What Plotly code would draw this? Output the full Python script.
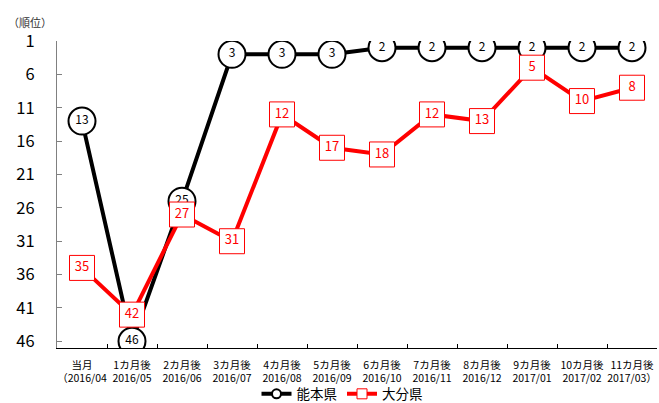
import plotly.graph_objects as go

categories = ["当月<br>（2016/04", "1カ月後<br>2016/05", "2カ月後<br>2016/06", "3カ月後<br>2016/07",
              "4カ月後<br>2016/08", "5カ月後<br>2016/09", "6カ月後<br>2016/10", "7カ月後<br>2016/11",
              "8カ月後<br>2016/12", "9カ月後<br>2017/01", "10カ月後<br>2017/02", "11カ月後<br>2017/03）"]
kumamoto = [13, 46, 25, 3, 3, 3, 2, 2, 2, 2, 2, 2]
oita = [35, 42, 27, 31, 12, 17, 18, 12, 13, 5, 10, 8]
y_ticks = [1, 6, 11, 16, 21, 26, 31, 36, 41, 46]

FONT = "Noto Sans CJK JP"

fig = go.Figure()
fig.add_trace(go.Scatter(
    x=categories, y=kumamoto, name="能本県", mode="lines+markers+text", showlegend=False,
    line=dict(color="black", width=4),
    marker=dict(symbol="circle", size=27, color="white", line=dict(color="black", width=2)),
    text=[str(v) for v in kumamoto], textposition="middle center",
    textfont=dict(color="black", size=12, family=FONT),
))
fig.add_trace(go.Scatter(
    x=categories, y=oita, name="大分県", mode="lines+markers+text", showlegend=False,
    line=dict(color="#ff0000", width=4),
    marker=dict(symbol="square", size=25, color="white", line=dict(color="#ff0000", width=1)),
    text=[str(v) for v in oita], textposition="middle center",
    textfont=dict(color="#ff0000", size=13, family=FONT),
))
# legend entries with small symbols
fig.add_trace(go.Scatter(
    x=[None], y=[None], name="能本県", mode="lines+markers",
    line=dict(color="black", width=4),
    marker=dict(symbol="circle", size=9, color="white", line=dict(color="black", width=2)),
))
fig.add_trace(go.Scatter(
    x=[None], y=[None], name="大分県", mode="lines+markers",
    line=dict(color="#ff0000", width=4),
    marker=dict(symbol="square", size=10, color="white", line=dict(color="#ff0000", width=1)),
))

fig.update_layout(
    width=659, height=403,
    margin=dict(l=57, r=2, t=41, b=55, autoexpand=False),
    paper_bgcolor="white", plot_bgcolor="white",
    font=dict(family=FONT, color="black"),
    showlegend=True,
    legend=dict(orientation="h", x=0.475, xanchor="center", y=-0.15, yanchor="middle",
                font=dict(size=13.5, family=FONT), itemwidth=30,
                traceorder="normal", tracegroupgap=0, bgcolor="rgba(0,0,0,0)"),
    xaxis=dict(type="category", showline=True, linecolor="black", linewidth=1,
               ticks="inside", ticklen=4, tickcolor="black", tickson="boundaries",
               tickangle=0, automargin=False, ticklabelstandoff=7,
               tickfont=dict(size=10.5, family=FONT, color="black"), showgrid=False,
               range=[-0.5, 11.5], fixedrange=True),
    yaxis=dict(range=[47, 1], tickvals=y_ticks, ticks="inside", ticklen=5, tickcolor="#808080",
               showline=True, linecolor="#808080", linewidth=1, showgrid=False, zeroline=False,
               automargin=False,
               tickfont=dict(size=16.5, family=FONT, color="black"), ticklabelstandoff=18),
    annotations=[dict(text="（順位）", xref="paper", yref="paper", x=-0.085, y=1.03,
                      xanchor="left", yanchor="bottom", showarrow=False,
                      font=dict(size=11, family=FONT, color="#333333"))],
)

fig.write_html("out.html")
